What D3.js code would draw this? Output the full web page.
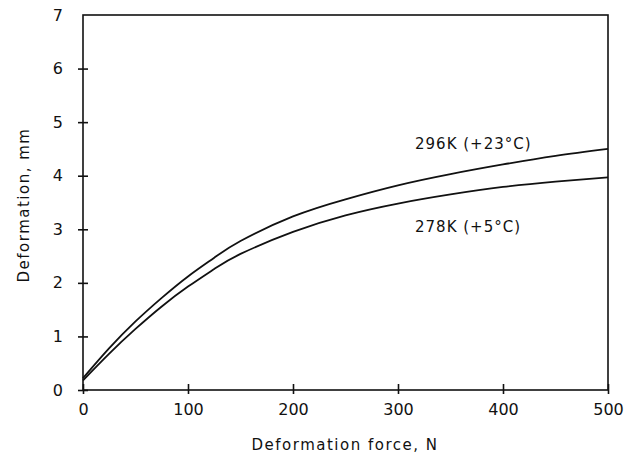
<!DOCTYPE html>
<html>
<head>
<meta charset="utf-8">
<script src="https://cdn.jsdelivr.net/npm/d3@7"></script>
<style>
  body { margin: 0; background: #fff; }
  svg text { font-family: "DejaVu Sans", sans-serif; fill: #111; }
</style>
</head>
<body>
<svg id="chart" width="634" height="475"></svg>
<script>
// Data
const force = [0, 25, 50, 75, 100, 125, 150, 200, 250, 300, 350, 400, 450, 500];
const def296 = [0.22, 0.78, 1.28, 1.72, 2.12, 2.47, 2.78, 3.24, 3.56, 3.82, 4.03, 4.21, 4.37, 4.50];
const def278 = [0.18, 0.68, 1.14, 1.56, 1.93, 2.26, 2.54, 2.95, 3.26, 3.48, 3.65, 3.79, 3.89, 3.97];
const xTicks = [0, 100, 200, 300, 400, 500];
const yTicks = [0, 1, 2, 3, 4, 5, 6, 7];
const seriesLabels = ["296K (+23°C)", "278K (+5°C)"];
const xTitle = "Deformation force, N";
const yTitle = "Deformation, mm";

const svg = d3.select("#chart");
const x = d3.scaleLinear().domain([0, 500]).range([83, 608]);
const y = d3.scaleLinear().domain([0, 7]).range([390, 15]);

// frame
svg.append("rect")
  .attr("x", x(0)).attr("y", y(7))
  .attr("width", x(500) - x(0)).attr("height", y(0) - y(7))
  .attr("fill", "none").attr("stroke", "#111").attr("stroke-width", 1.6);

// x axis
const xAxis = d3.axisBottom(x).tickValues(xTicks).tickFormat(d3.format("d")).tickSize(5).tickSizeOuter(0).tickPadding(6);
const gx = svg.append("g").attr("transform", `translate(0,${y(0)})`).call(xAxis);
gx.select(".domain").remove();
gx.selectAll(".tick line").attr("y1", -6).attr("y2", 4).attr("stroke", "#111").attr("stroke-width", 1.6);
gx.selectAll(".tick text").attr("font-size", 16).attr("dy", "0.85em").style("font-family", "'DejaVu Sans', sans-serif");

// y axis
const yAxis = d3.axisLeft(y).tickValues(yTicks).tickFormat(d3.format("d")).tickSize(5).tickSizeOuter(0).tickPadding(15);
const gy = svg.append("g").attr("transform", `translate(${x(0)},0)`).call(yAxis);
gy.select(".domain").remove();
gy.selectAll(".tick line").attr("x1", -5).attr("x2", 5).attr("stroke", "#111").attr("stroke-width", 1.6);
gy.selectAll(".tick text").attr("font-size", 16).style("font-family", "'DejaVu Sans', sans-serif");
gy.selectAll(".tick").filter(d => d === 7).select("line").remove();

// curves
const line = d3.line().x(d => x(d[0])).y(d => y(d[1])).curve(d3.curveNatural);
[def296, def278].forEach(vals => {
  svg.append("path")
    .datum(force.map((f, i) => [f, vals[i]]))
    .attr("d", line)
    .attr("fill", "none").attr("stroke", "#111").attr("stroke-width", 1.8);
});

// series labels
svg.append("text").attr("x", 415).attr("y", 149).attr("font-size", 15).attr("letter-spacing", 1).text(seriesLabels[0]);
svg.append("text").attr("x", 415).attr("y", 232).attr("font-size", 15).attr("letter-spacing", 1).text(seriesLabels[1]);

// axis titles
svg.append("text").attr("x", 345).attr("y", 450).attr("text-anchor", "middle")
  .attr("font-size", 15).attr("letter-spacing", 1.5).text(xTitle);
svg.append("text").attr("transform", "translate(29,205) rotate(-90)").attr("text-anchor", "middle")
  .attr("font-size", 15).attr("letter-spacing", 1.5).text(yTitle);
</script>
</body>
</html>
